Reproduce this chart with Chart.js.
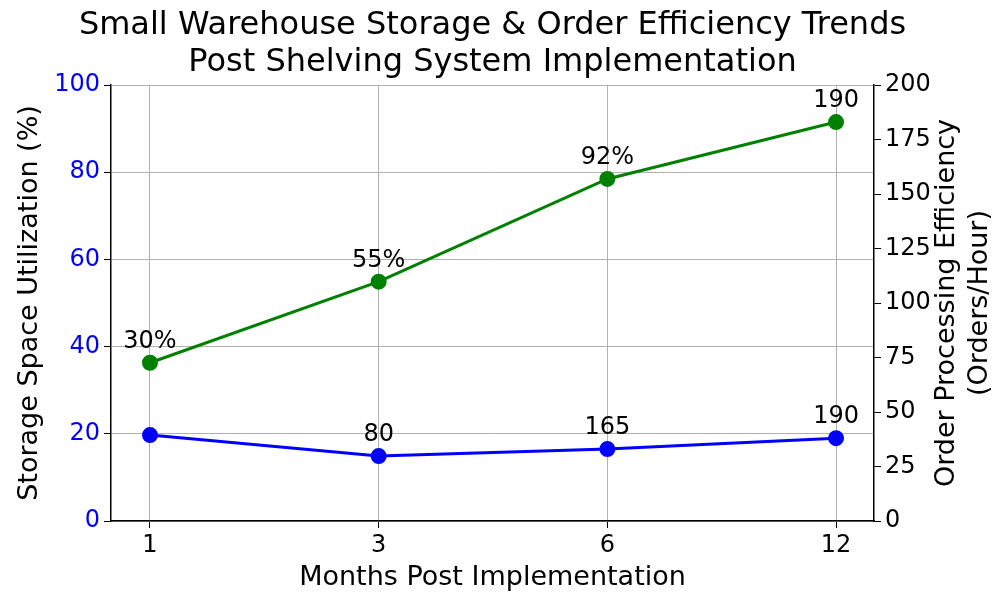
<!DOCTYPE html>
<html>
<head>
<meta charset="utf-8">
<script src="https://cdn.jsdelivr.net/npm/chart.js@4.4.1/dist/chart.umd.min.js"></script>
<style>
  html, body { margin: 0; padding: 0; background: #fff; }
  #wrap { width: 1000px; height: 600px; }
</style>
</head>
<body>
<div id="wrap"><canvas id="trendChart" width="1000" height="600"></canvas></div>
<script>
// Data
const months = ['1', '3', '6', '12'];
const storageUtil = [19.7, 14.9, 16.5, 19.0];        // blue, left axis (%)
const orderEfficiency = [72.6, 109.8, 156.9, 183.0]; // green, right axis (orders/hour)
const storageLabels = ['', '80', '165', '190'];
const efficiencyLabels = ['30%', '55%', '92%', '190'];
const leftTicks = [0, 20, 40, 60, 80, 100];
const rightTicks = [0, 25, 50, 75, 100, 125, 150, 175, 200];

const titleLines = ['Small Warehouse Storage & Order Efficiency Trends', 'Post Shelving System Implementation'];
const rightTitleLines = ['Order Processing Efficiency', '(Orders/Hour)'];

Chart.defaults.font.family = "'DejaVu Sans', sans-serif";
Chart.defaults.color = '#000';

// point labels, chart title and the right axis title
const extraText = {
    id: 'extraText',
    afterDatasetsDraw(chart) {
        const ctx = chart.ctx;
        const sets = [storageLabels, efficiencyLabels];
        ctx.save();
        ctx.font = "24px 'DejaVu Sans'";
        ctx.fillStyle = '#000';
        ctx.textAlign = 'center';
        ctx.textBaseline = 'alphabetic';
        sets.forEach((labels, di) => {
            chart.getDatasetMeta(di).data.forEach((pt, i) => {
                if (labels[i]) ctx.fillText(labels[i], pt.x, pt.y - 15);
            });
        });
        ctx.restore();
    },
    afterDraw(chart) {
        const ctx = chart.ctx;
        const area = chart.chartArea;
        const cx = (area.left + area.right) / 2;
        ctx.save();
        ctx.fillStyle = '#000';
        ctx.textAlign = 'center';
        ctx.textBaseline = 'middle';
        ctx.font = "32px 'DejaVu Sans'";
        ctx.fillText(titleLines[0], cx, 26);
        ctx.fillText(titleLines[1], cx, 63);

        ctx.font = "27px 'DejaVu Sans'";
        const cy = (area.top + area.bottom) / 2;
        const xs = [947, 980];
        rightTitleLines.forEach((t, i) => {
            ctx.save();
            ctx.translate(xs[i], cy);
            ctx.rotate(-Math.PI / 2);
            ctx.fillText(t, 0, 0);
            ctx.restore();
        });
        ctx.restore();
    }
};

const ctx = document.getElementById('trendChart').getContext('2d');
new Chart(ctx, {
    type: 'line',
    data: {
        datasets: [{
            label: 'Storage Space Utilization (%)',
            data: storageUtil.map((v, i) => ({ x: i, y: v })),
            borderColor: '#0000ff',
            backgroundColor: '#0000ff',
            borderWidth: 3,
            pointRadius: 6.5,
            pointHoverRadius: 6.5,
            yAxisID: 'y',
            tension: 0
        }, {
            label: 'Order Processing Efficiency (Orders/Hour)',
            data: orderEfficiency.map((v, i) => ({ x: i, y: v })),
            borderColor: '#008000',
            backgroundColor: '#008000',
            borderWidth: 3,
            pointRadius: 6.5,
            pointHoverRadius: 6.5,
            yAxisID: 'y1',
            tension: 0
        }]
    },
    options: {
        responsive: false,
        animation: false,
        layout: { padding: { top: 85, left: 0, right: 0, bottom: 0 } },
        plugins: {
            legend: { display: false },
            title: { display: false },
            tooltip: { enabled: false }
        },
        scales: {
            x: {
                type: 'linear',
                min: -0.1705,
                max: 3.166,
                afterBuildTicks: scale => { scale.ticks = months.map((m, i) => ({ value: i })); },
                afterFit: scale => { scale.height = 79; },
                ticks: {
                    callback: v => months[v],
                    font: { size: 24 },
                    color: '#000',
                    padding: 3,
                    maxRotation: 0
                },
                grid: { color: '#b0b0b0', tickColor: '#000', tickLength: 7, lineWidth: 1 },
                border: { color: '#000', width: 1.5 },
                title: {
                    display: true,
                    text: 'Months Post Implementation',
                    font: { size: 27 },
                    color: '#000',
                    padding: { top: 0, bottom: 6 }
                }
            },
            y: {
                position: 'left',
                min: 0,
                max: 100,
                afterBuildTicks: scale => { scale.ticks = leftTicks.map(v => ({ value: v })); },
                afterFit: scale => { scale.width = 111; },
                ticks: { font: { size: 24 }, color: '#0000ff', padding: 4 },
                grid: { color: '#b0b0b0', tickColor: '#000', tickLength: 7, lineWidth: 1 },
                border: { color: '#000', width: 1.5 },
                title: {
                    display: true,
                    text: 'Storage Space Utilization (%)',
                    font: { size: 27 },
                    color: '#000',
                    padding: { top: 14, bottom: 0 }
                }
            },
            y1: {
                position: 'right',
                min: 0,
                max: 200,
                afterBuildTicks: scale => { scale.ticks = rightTicks.map(v => ({ value: v })); },
                afterFit: scale => { scale.width = 126; },
                ticks: { font: { size: 24 }, color: '#000', padding: 4 },
                grid: { drawOnChartArea: false, tickColor: '#000', tickLength: 7 },
                border: { color: '#000', width: 1.5 }
            }
        }
    },
    plugins: [extraText]
});
</script>
</body>
</html>
